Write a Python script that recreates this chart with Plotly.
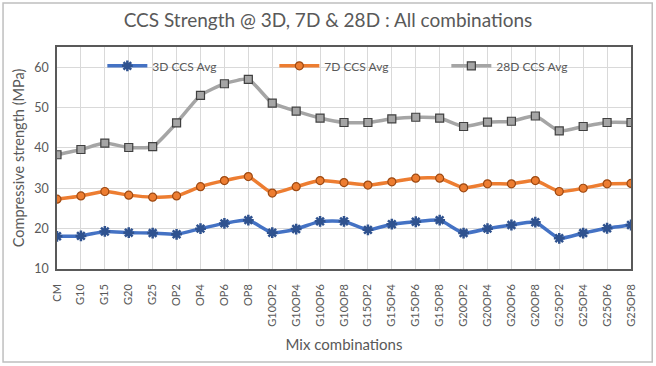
import plotly.graph_objects as go

categories = ["CM", "G10", "G15", "G20", "G25", "OP2", "OP4", "OP6", "OP8",
              "G10OP2", "G10OP4", "G10OP6", "G10OP8",
              "G15OP2", "G15OP4", "G15OP6", "G15OP8",
              "G20OP2", "G20OP4", "G20OP6", "G20OP8",
              "G25OP2", "G25OP4", "G25OP6", "G25OP8"]

ccs_3d = [18.1, 18.2, 19.3, 19.0, 18.9, 18.6, 20.0, 21.3, 22.1,
          19.0, 19.9, 21.8, 21.8,
          19.7, 21.1, 21.7, 22.1,
          18.9, 20.0, 20.9, 21.6,
          17.6, 18.9, 20.1, 20.9]

ccs_7d = [27.3, 28.1, 29.2, 28.3, 27.8, 28.1, 30.4, 31.9, 32.9,
          28.8, 30.4, 31.9, 31.4,
          30.8, 31.6, 32.5, 32.5,
          30.1, 31.1, 31.1, 31.9,
          29.2, 30.0, 31.1, 31.2]

ccs_28d = [38.3, 39.6, 41.2, 40.1, 40.3, 46.2, 53.0, 55.9, 57.0,
           51.1, 49.1, 47.4, 46.3,
           46.3, 47.2, 47.6, 47.4,
           45.3, 46.4, 46.6, 47.9,
           44.2, 45.3, 46.3, 46.3]

FONT = "Lato"
TXT = "#595959"

fig = go.Figure()
fig.add_trace(go.Scatter(
    x=categories, y=ccs_3d, name="3D CCS Avg", mode="lines+markers",
    line=dict(color="#4472C4", width=3.5, shape="spline", smoothing=0.5),
    marker=dict(symbol="asterisk", size=9, color="#2F528F",
                line=dict(color="#2F528F", width=2.5))))
fig.add_trace(go.Scatter(
    x=categories, y=ccs_7d, name="7D CCS Avg", mode="lines+markers",
    line=dict(color="#ED7D31", width=3.5, shape="spline", smoothing=0.5),
    marker=dict(symbol="circle", size=8, color="#ED7D31",
                line=dict(color="#9E4A13", width=1.2))))
fig.add_trace(go.Scatter(
    x=categories, y=ccs_28d, name="28D CCS Avg", mode="lines+markers",
    line=dict(color="#A5A5A5", width=3.5, shape="spline", smoothing=0.5),
    marker=dict(symbol="square", size=8, color="#A5A5A5",
                line=dict(color="#404040", width=1.2))))

fig.update_layout(
    width=656, height=366,
    margin=dict(l=57, r=25, t=47, b=97),
    paper_bgcolor="white", plot_bgcolor="white",
    font=dict(family=FONT, color=TXT, size=12),
    title=dict(text="CCS Strength @ 3D, 7D & 28D : All combinations",
               x=0.5, xanchor="center", y=0.945, yanchor="middle",
               font=dict(family=FONT, size=19, color=TXT)),
    legend=dict(orientation="h", x=0.079, xanchor="left", y=0.915, yanchor="middle",
                bgcolor="rgba(255,255,255,0)", font=dict(size=12, color=TXT),
                entrywidth=117, entrywidthmode="pixels", itemwidth=40),
    showlegend=True,
)

fig.update_xaxes(
    type="category", range=[0, len(categories) - 1],
    tickangle=-90, tickfont=dict(size=11, color=TXT),
    showgrid=True, gridcolor="#D9D9D9", gridwidth=1,
    showline=True, linecolor="#595959", linewidth=1.5, mirror=True,
    ticks="outside", ticklen=9, tickcolor="rgba(255,255,255,0)",
    title=dict(text="Mix combinations", font=dict(size=15, color=TXT), standoff=14),
)
fig.update_yaxes(
    range=[10, 65], dtick=10, tick0=10,
    tickfont=dict(size=12.5, color=TXT),
    showgrid=True, gridcolor="#D9D9D9", gridwidth=1,
    showline=True, linecolor="#595959", linewidth=1.5, mirror=True,
    ticks="outside", ticklen=4, tickcolor="rgba(255,255,255,0)", zeroline=False,
    title=dict(text="Compressive strength (MPa)", font=dict(size=14.5, color=TXT), standoff=6),
)

fig.add_shape(type="rect", xref="paper", yref="paper",
              x0=-0.094, x1=1.037, y0=-0.419, y1=1.198,
              line=dict(color="#BFBFBF", width=1.5), layer="below")

fig.write_html("out.html")
